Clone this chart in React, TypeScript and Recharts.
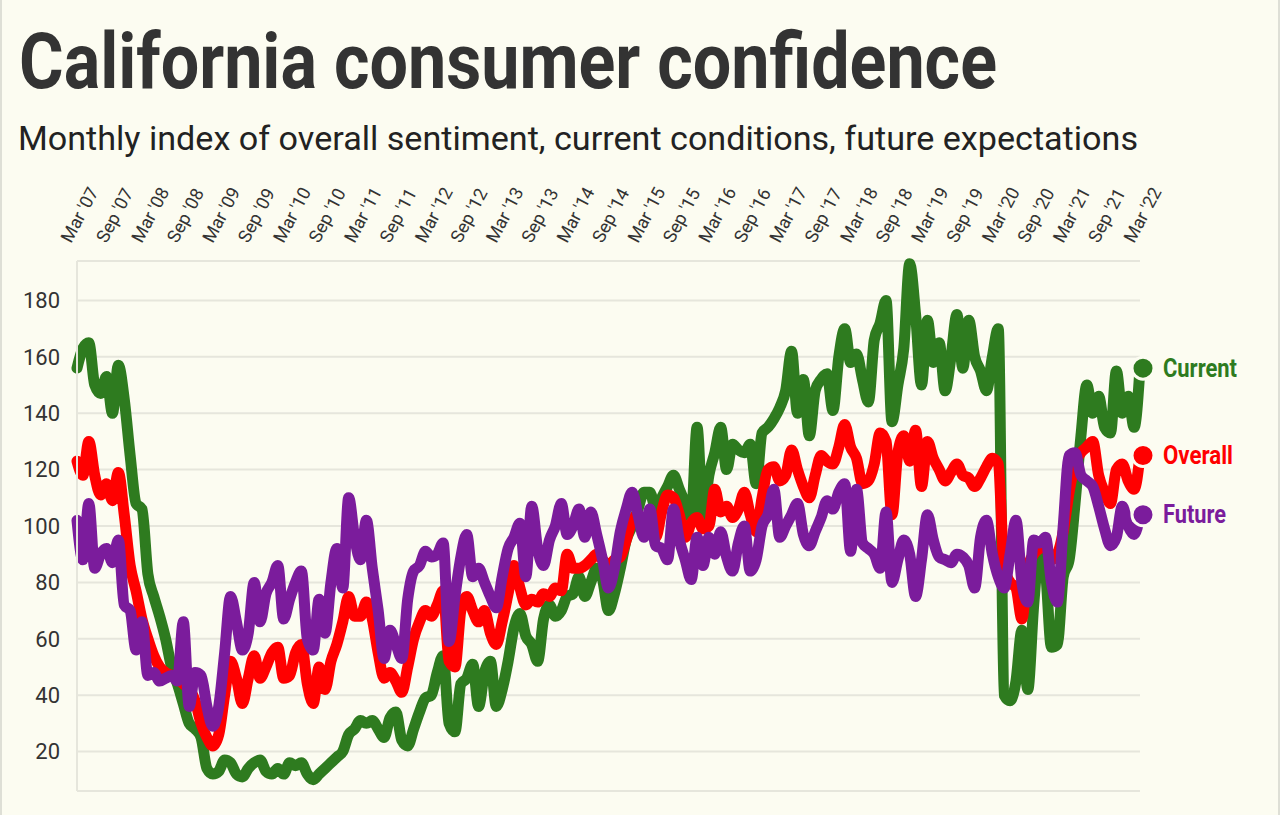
import { CartesianGrid, Line, LineChart, XAxis, YAxis } from "recharts";

// index 0 = Mar 2007, one point per month up to Mar 2022
const monthNames = ["Jan", "Feb", "Mar", "Apr", "May", "Jun", "Jul", "Aug", "Sep", "Oct", "Nov", "Dec"];
const months = Array.from({ length: 181 }, (_, i) => {
	const m = (2 + i) % 12;
	const y = 2007 + Math.floor((2 + i) / 12);
	return `${monthNames[m]} '${String(y).slice(2)}`;
});

const tickLabels = [
	"Mar '07", "Sep '07", "Mar '08", "Sep '08", "Mar '09", "Sep '09", "Mar '10", "Sep '10",
	"Mar '11", "Sep '11", "Mar '12", "Sep '12", "Mar '13", "Sep '13", "Mar '14", "Sep '14",
	"Mar '15", "Sep '15", "Mar '16", "Sep '16", "Mar '17", "Sep '17", "Mar '18", "Sep '18",
	"Mar '19", "Sep '19", "Mar '20", "Sep '20", "Mar '21", "Sep '21", "Mar '22",
];
const tickIdx = tickLabels.map((_, i) => i * 6);
const yTicks = [20, 40, 60, 80, 100, 120, 140, 160, 180];

const current = [
	156, 163, 165, 150, 147, 153, 140, 157, 145, 125, 108, 106, 83, 75, 68, 60, 50, 44, 37, 30,
	28, 25, 14, 12, 13, 17, 16, 12, 11, 14, 16, 17, 13, 12, 14, 12, 16, 15, 16, 12,
	10, 12, 14, 16, 18, 20, 26, 28, 31, 30, 31, 28, 25, 32, 34, 24, 22, 28, 34, 39,
	40, 48, 54, 30, 27, 44, 46, 51, 36, 48, 52, 36, 42, 52, 64, 69, 61, 58, 52, 67,
	72, 68, 70, 75, 76, 82, 75, 80, 85, 81, 70, 76, 85, 95, 100, 106, 112, 112, 106, 110,
	114, 118, 113, 108, 103, 135, 103, 118, 126, 135, 120, 129, 127, 126, 129, 115, 133, 135, 138, 142,
	148, 162, 140, 152, 132, 148, 152, 154, 141, 160, 170, 158, 161, 152, 144, 166, 172, 180, 137, 150,
	163, 193, 175, 150, 173, 158, 165, 148, 160, 175, 156, 173, 160, 155, 148, 160, 170, 40, 38, 45,
	63, 42, 72, 92, 84, 57, 58, 82, 88, 108, 132, 150, 140, 146, 135, 133, 155, 140, 146, 135,
	156,
];

const overall = [
	123, 118, 130, 118, 111, 115, 109, 119, 104, 86, 77, 67, 60, 54, 50, 48, 47, 46, 44, 42,
	38, 30, 25, 22, 26, 40, 52, 46, 37, 46, 54, 46, 50, 55, 57, 46, 47, 55, 58, 44,
	37, 50, 42, 52, 58, 66, 75, 68, 68, 73, 67, 55, 46, 48, 45, 41, 50, 60, 66, 70,
	68, 72, 77, 52, 50, 70, 75, 70, 66, 70, 62, 58, 66, 76, 86, 78, 72, 74, 73, 76,
	75, 78, 77, 90, 85, 85, 86, 88, 90, 88, 86, 88, 89, 95, 102, 104, 99, 103, 96, 105,
	111, 110, 104, 96, 101, 103, 99, 100, 113, 105, 107, 103, 106, 112, 104, 98, 110, 120, 121, 116,
	118, 127, 120, 114, 110, 118, 125, 123, 122, 128, 136, 128, 124, 115, 116, 122, 133, 130, 104, 126,
	132, 123, 134, 114, 130, 124, 120, 116, 119, 122, 118, 117, 114, 117, 121, 124, 122, 85, 80, 78,
	67, 85, 90, 92, 93, 88, 90, 98, 112, 122, 126, 128, 130, 118, 112, 108, 120, 122, 116, 113,
	125,
];

const future = [
	102, 88, 108, 85, 90, 92, 87, 95, 72, 70, 56, 66, 47, 48, 45, 46, 47, 45, 66, 36,
	48, 47, 36, 29, 36, 55, 75, 66, 56, 62, 80, 66, 76, 80, 86, 67, 74, 80, 84, 60,
	56, 74, 62, 80, 92, 78, 110, 96, 88, 102, 85, 70, 53, 63, 58, 53, 74, 84, 86, 91,
	89, 90, 94, 59, 75, 89, 97, 82, 85, 80, 75, 71, 82, 92, 96, 101, 82, 107, 92, 86,
	95, 100, 108, 97, 100, 106, 96, 105, 97, 88, 78, 85, 98, 106, 112, 104, 96, 106, 93, 92,
	88, 106, 95, 88, 81, 96, 86, 96, 90, 98, 89, 84, 94, 100, 84, 88, 100, 104, 113, 96,
	100, 104, 108, 97, 93, 98, 103, 109, 106, 112, 115, 91, 113, 94, 92, 90, 85, 105, 80, 88,
	95, 90, 75, 88, 104, 95, 89, 88, 87, 90, 89, 86, 78, 96, 102, 90, 82, 78, 90, 102,
	80, 73, 95, 94, 96, 80, 73, 100, 125, 126, 118, 116, 114, 107, 99, 93, 96, 107, 100, 97,
	104,
];

const chartData = months.map((month, i) => ({
	idx: i,
	month,
	current: current[i],
	overall: overall[i],
	future: future[i],
}));

const BG = "#fcfcf1";
const GREEN = "#2e7b1f";
const RED = "#ff0000";
const PURPLE = "#7b1c9c";

function MonthTick(props: any) {
	const { x, payload } = props;
	const label = tickLabels[Math.round(payload.value / 6)];
	return (
		<text
			transform={`translate(${x - 6},244) rotate(-62)`}
			fontSize={18}
			fontFamily="Roboto, sans-serif"
			fill="#333"
		>
			{label}
		</text>
	);
}

// dot + label only on the last point of each series
function endDot(color: string, label: string, labelWidth: number) {
	return (props: any) => {
		const { cx, cy, index } = props;
		if (index !== chartData.length - 1) return <g key={`d-${index}`} />;
		return (
			<g key={`end-${label}`}>
				<circle cx={cx + 3} cy={cy} r={11} fill={color} stroke={BG} strokeWidth={3} />
				<text
					x={cx + 23}
					y={cy}
					dominantBaseline="central"
					fontSize={25}
					fontWeight={700}
					fontFamily="Roboto, sans-serif"
					fill={color}
					textLength={labelWidth}
					lengthAdjust="spacingAndGlyphs"
				>
					{label}
				</text>
			</g>
		);
	};
}

export default function App() {
	return (
		<div
			style={{
				position: "absolute",
				left: 0,
				top: 0,
				width: 1280,
				height: 815,
				background: BG,
				overflow: "hidden",
			}}
		>
			<div style={{ position: "absolute", left: 0, top: 0, width: 2, height: 815, background: "#dedfd6" }} />
			<div style={{ position: "absolute", right: 0, top: 0, width: 2, height: 815, background: "#dedfd6" }} />
			<svg width={1280} height={170} style={{ position: "absolute", left: 0, top: 0 }}>
				<text
					x={19}
					y={88}
					fontSize={77}
					fontWeight={700}
					fontFamily="Roboto, sans-serif"
					fill="#333"
					textLength={978}
					lengthAdjust="spacingAndGlyphs"
				>
					California consumer confidence
				</text>
				<text
					x={18}
					y={150}
					fontSize={34}
					fontFamily="Roboto, sans-serif"
					fill="#222"
					textLength={1120}
					lengthAdjust="spacingAndGlyphs"
				>
					Monthly index of overall sentiment, current conditions, future expectations
				</text>
			</svg>
			<div style={{ position: "absolute", left: 0, top: 0 }}>
				<LineChart
					width={1280}
					height={815}
					data={chartData}
					margin={{ top: 201, right: 140, bottom: 24, left: 0 }}
				>
					<CartesianGrid vertical={false} stroke="#e6e6dc" strokeWidth={2} />
					<XAxis
						dataKey="idx"
						type="number"
						domain={[0, 180]}
						ticks={tickIdx}
						interval={0}
						orientation="top"
						height={60}
						axisLine={false}
						tickLine={false}
						tick={<MonthTick />}
					/>
					<YAxis
						domain={[6, 194]}
						ticks={yTicks}
						width={77}
						axisLine={{ stroke: "#e6e6dc", strokeWidth: 2 }}
						tickLine={false}
						tickSize={0}
						tickMargin={17}
						tick={{ fill: "#333", fontSize: 22, fontFamily: "Roboto, sans-serif" }}
					/>
					<Line
						type="monotone"
						dataKey="current"
						stroke={GREEN}
						strokeWidth={11}
						strokeLinejoin="round"
						strokeLinecap="round"
						dot={endDot(GREEN, "Current", 74)}
						activeDot={false}
						isAnimationActive={false}
					/>
					<Line
						type="monotone"
						dataKey="overall"
						stroke={RED}
						strokeWidth={11}
						strokeLinejoin="round"
						strokeLinecap="round"
						dot={endDot(RED, "Overall", 70)}
						activeDot={false}
						isAnimationActive={false}
					/>
					<Line
						type="monotone"
						dataKey="future"
						stroke={PURPLE}
						strokeWidth={11}
						strokeLinejoin="round"
						strokeLinecap="round"
						dot={endDot(PURPLE, "Future", 63)}
						activeDot={false}
						isAnimationActive={false}
					/>
				</LineChart>
			</div>
		</div>
	);
}
